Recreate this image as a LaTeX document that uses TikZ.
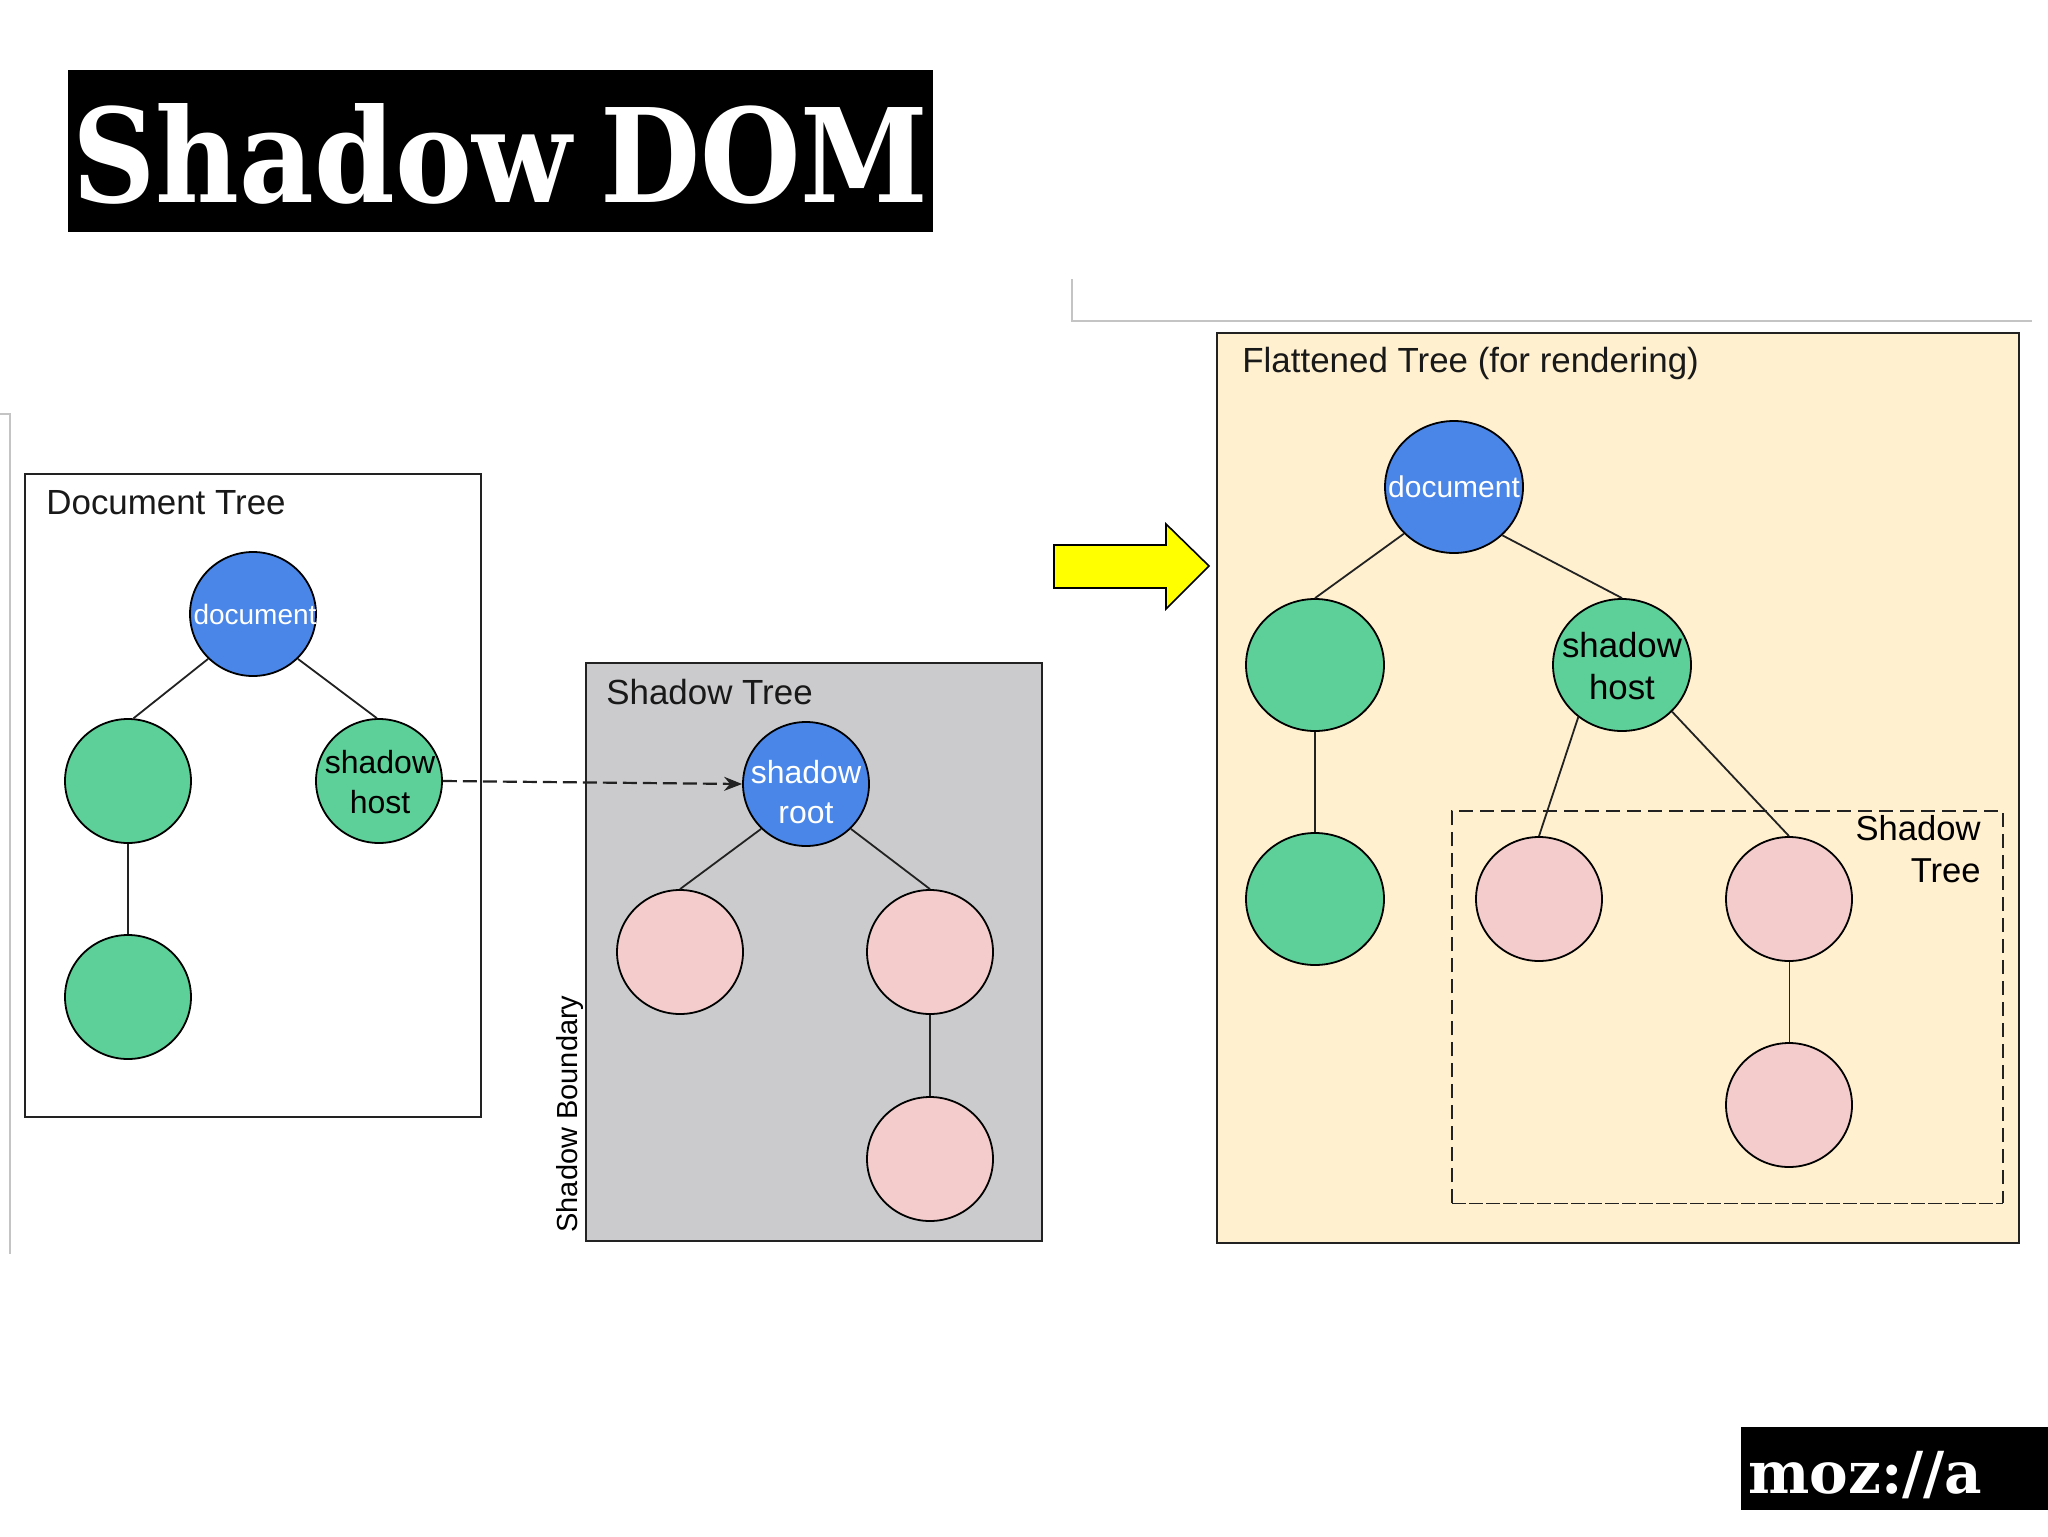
\documentclass[tikz,border=0pt]{standalone}
\usepackage{fontspec}
\setmainfont{Liberation Sans}
\newfontfamily\slabfont{DejaVu Serif}[BoldFont={DejaVu Serif Bold}]
\usetikzlibrary{shapes.geometric,arrows.meta}
\definecolor{nblue}{HTML}{4A86E8}
\definecolor{ngreen}{HTML}{5DCF98}
\definecolor{npink}{HTML}{F4CCCC}
\definecolor{ngray}{HTML}{CBCBCD}
\definecolor{ncream}{HTML}{FFF0CF}
\definecolor{nedge}{HTML}{222222}
\definecolor{pageline}{HTML}{C4C4C4}
\definecolor{nyellow}{HTML}{FFFF00}
\tikzset{
  x=0.5pt,y=-0.5pt,
  container/.style={draw=nedge,line width=1.1pt},
  smallnode/.style={ellipse,draw=black,line width=0.9pt,inner sep=0pt,minimum width=63pt,minimum height=62pt},
  bignode/.style={ellipse,draw=black,line width=0.9pt,inner sep=0pt,minimum width=69pt,minimum height=66pt},
  edge/.style={draw=nedge,line width=0.9pt},
  boxtitle/.style={anchor=base west,inner sep=0pt,font=\fontsize{17.45}{21}\selectfont,text=black!90},
  insmall/.style={inner sep=0pt,align=center,font=\fontsize{16}{19.6}\selectfont},
  inbig/.style={inner sep=0pt,align=center,font=\fontsize{17.4}{21}\selectfont},
  page/.style={draw=pageline,line width=0.7pt},
}
\begin{document}
\begin{tikzpicture}
\useasboundingbox (0,0) rectangle (2048,1536);
\fill[white] (0,0) rectangle (2048,1536);
% slide fragments
\draw[page] (1072,279) -- (1072,321) -- (2032,321);
\draw[page] (0,414) -- (10,414) -- (10,1254);
% title
\fill[black] (68,70) rectangle (933,232);
\node[anchor=base west,inner sep=0pt,text=white] (title) at (72,202)
  {\resizebox{428pt}{49.5pt}{\slabfont\bfseries Shadow\kern-0.1em\ DOM}};
% document tree
\draw[container] (25,474) rectangle (481,1117);
\node[boxtitle] (dtitle) at (46,514) {Document Tree};
\node[smallnode,fill=nblue] (d1) at (253,614) {};
\node[smallnode,fill=ngreen] (d2) at (128,781) {};
\node[smallnode,fill=ngreen] (d3) at (379,781) {};
\node[smallnode,fill=ngreen] (d4) at (128,997) {};
\node[insmall,text=white,font=\fontsize{14}{17}\selectfont] (d1t) at (255,614) {document};
\node[insmall,text=black] (d3t) at (380,782) {shadow\\host};
\draw[edge] (d1.-135) -- (d2.85);
\draw[edge] (d1.-45) -- (d3.92);
\draw[edge] (d2) -- (d4);
% shadow tree
\draw[container,fill=ngray] (586,663) rectangle (1042,1241);
\node[boxtitle] (stitle) at (606,704) {Shadow Tree};
\node[inner sep=0pt,rotate=90,font=\fontsize{14.5}{17}\selectfont] (sb) at (570,1114) {Shadow Boundary};
\node[smallnode,fill=nblue] (s1) at (806,784) {};
\node[smallnode,fill=npink] (s2) at (680,952) {};
\node[smallnode,fill=npink] (s3) at (930,952) {};
\node[smallnode,fill=npink] (s4) at (930,1159) {};
\node[insmall,text=white] (s1t) at (806,792) {shadow\\root};
\draw[edge] (s1.-135) -- (s2.north);
\draw[edge] (s1.-45) -- (s3.north);
\draw[edge,line width=1.1pt] (s3) -- (s4);
% link
\draw[edge,line width=1.1pt,dash pattern=on 7pt off 3pt,-{Stealth[length=9pt,width=7pt]}] (d3.east) -- (s1.west);
% big arrow
\draw[draw=black,fill=nyellow,line width=0.8pt] (1054,545) -- (1166,545) -- (1166,524) -- (1209,566) -- (1166,609) -- (1166,588) -- (1054,588) -- cycle;
% flattened tree
\draw[container,fill=ncream] (1217,333) rectangle (2019,1243);
\node[boxtitle] (ftitle) at (1242,372) {Flattened Tree (for rendering)};
\node[bignode,fill=nblue] (f1) at (1454,487) {};
\node[bignode,fill=ngreen] (f2) at (1315,665) {};
\node[bignode,fill=ngreen] (f3) at (1622,665) {};
\node[bignode,fill=ngreen] (f4) at (1315,899) {};
\node[smallnode,fill=npink] (f5) at (1539,899) {};
\node[smallnode,fill=npink] (f6) at (1789,899) {};
\node[smallnode,fill=npink] (f7) at (1789,1105) {};
\node[inbig,text=white,font=\fontsize{15}{18}\selectfont] (f1t) at (f1) {document};
\node[inbig,text=black] (f3t) at (1622,666) {shadow\\host};
\draw[edge] (f1.-137) -- (f2.north);
\draw[edge] (f1.-45) -- (f3.north);
\draw[edge] (f2) -- (f4);
\draw[edge] (f3.-130) -- (f5.north);
\draw[edge] (f3.-43) -- (f6.north);
\draw[edge,line width=0.5pt] (f6) -- (f7);
\draw[draw=nedge,line width=0.9pt,dash pattern=on 7pt off 3.5pt] (1452,1203) -- (1452,811) -- (2003,811) -- (2003,1203);
\draw[draw=nedge,line width=0.5pt,dash pattern=on 7pt off 1.5pt] (1452,1203) -- (2003,1203);
\node[inner sep=0pt,anchor=north east,align=right,font=\fontsize{17.3}{21}\selectfont] (ftree) at (1981,815) {Shadow\\Tree};
% logo
\fill[black] (1741,1427) rectangle (2048,1510);
\node[anchor=base west,inner sep=0pt,text=white] (logo) at (1748,1493)
  {\resizebox{117pt}{!}{\slabfont\bfseries moz://a}};
\end{tikzpicture}
\end{document}
